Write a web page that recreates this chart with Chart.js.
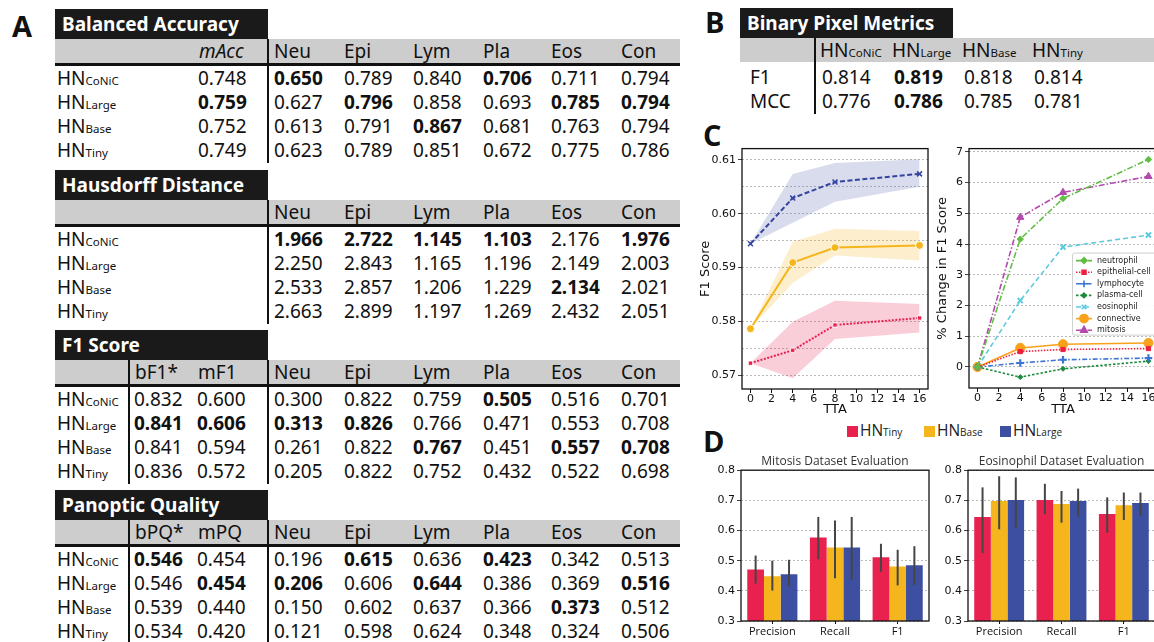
<!DOCTYPE html>
<html><head><meta charset="utf-8">
<script src="https://cdn.jsdelivr.net/npm/chart.js@4.4.1/dist/chart.umd.min.js"></script>
<style>
html,body{margin:0;padding:0;background:#fff;}
body{width:1154px;height:642px;position:relative;overflow:hidden;font-family:"Noto Sans","Open Sans",sans-serif;color:#111;}
.abs{position:absolute;white-space:nowrap;}
.panel{font-family:"Open Sans","Liberation Sans",sans-serif;font-weight:700;font-size:29px;line-height:30px;color:#111;}
.tbl{font-family:"Noto Sans","Open Sans",sans-serif;font-stretch:87.5%;font-size:19px;line-height:24px;height:24px;}
.tbox{background:#1a1a1a;color:#fff;font-weight:700;font-size:19px;line-height:30px;height:30px;padding-left:7px;box-sizing:border-box;font-family:"Noto Sans","Open Sans",sans-serif;font-stretch:87.5%;}
.gray{background:#cdcdcd;}
.rule{background:#111;}
.sub{font-size:11.5px;}
.b{font-weight:700;}
.i{font-style:italic;}
canvas{position:absolute;}
.leg{font-family:"Open Sans","Noto Sans",sans-serif;font-size:15.5px;line-height:18px;color:#222;}
.leg .sub{font-size:10px;}
</style>
</head>
<body>
<div class="abs panel" style="left:12px;top:11px;">A</div>
<div class="abs panel" style="left:705px;top:7px;">B</div>
<div class="abs panel" style="left:703px;top:120px;">C</div>
<div class="abs panel" style="left:703px;top:426px;">D</div>

<script>
// ---------------- DATA ----------------
const modelNames = ['CoNiC', 'Large', 'Base', 'Tiny'];
const classCols = ['Neu', 'Epi', 'Lym', 'Pla', 'Eos', 'Con'];

// Balanced accuracy
const accMean = [0.748, 0.759, 0.752, 0.749];
const accClass = [
  [0.650, 0.789, 0.840, 0.706, 0.711, 0.794],
  [0.627, 0.796, 0.858, 0.693, 0.785, 0.794],
  [0.613, 0.791, 0.867, 0.681, 0.763, 0.794],
  [0.623, 0.789, 0.851, 0.672, 0.775, 0.786]
];
const accBold = [[0,1],[0,4],[1,0],[1,2],[1,5],[1,6],[2,3]];

// Hausdorff distance
const hdClass = [
  [1.966, 2.722, 1.145, 1.103, 2.176, 1.976],
  [2.250, 2.843, 1.165, 1.196, 2.149, 2.003],
  [2.533, 2.857, 1.206, 1.229, 2.134, 2.021],
  [2.663, 2.899, 1.197, 1.269, 2.432, 2.051]
];
const hdBold = [[0,0],[0,1],[0,2],[0,3],[0,5],[2,4]];

// F1 score
const f1Summary = [[0.832, 0.600], [0.841, 0.606], [0.841, 0.594], [0.836, 0.572]];
const f1Class = [
  [0.300, 0.822, 0.759, 0.505, 0.516, 0.701],
  [0.313, 0.826, 0.766, 0.471, 0.553, 0.708],
  [0.261, 0.822, 0.767, 0.451, 0.557, 0.708],
  [0.205, 0.822, 0.752, 0.432, 0.522, 0.698]
];
const f1Bold = [[0,5],[1,0],[1,1],[1,2],[1,3],[2,4],[2,6],[2,7]];

// Panoptic quality
const pqSummary = [[0.546, 0.454], [0.546, 0.454], [0.539, 0.440], [0.534, 0.420]];
const pqClass = [
  [0.196, 0.615, 0.636, 0.423, 0.342, 0.513],
  [0.206, 0.606, 0.644, 0.386, 0.369, 0.516],
  [0.150, 0.602, 0.637, 0.366, 0.373, 0.512],
  [0.121, 0.598, 0.624, 0.348, 0.324, 0.506]
];
const pqBold = [[0,0],[0,3],[0,5],[1,1],[1,2],[1,4],[1,7],[2,6]];

// Binary pixel metrics (columns: CoNiC, Large, Base, Tiny)
const binaryRows = ['F1', 'MCC'];
const binaryF1 = [0.814, 0.819, 0.818, 0.814];
const binaryMCC = [0.776, 0.786, 0.785, 0.781];
const binaryBoldCol = 1;

// C: TTA
const ttaSteps = [0, 4, 8, 16];
const f1TTATiny  = [0.5722, 0.5746, 0.5793, 0.5806];
const f1TTATinyLo = [0.5722, 0.5694, 0.5767, 0.5779];
const f1TTATinyHi = [0.5722, 0.5799, 0.5838, 0.5832];
const f1TTABase  = [0.5786, 0.5909, 0.5937, 0.5941];
const f1TTABaseLo = [0.5786, 0.5871, 0.5922, 0.5913];
const f1TTABaseHi = [0.5786, 0.5948, 0.5972, 0.5968];
const f1TTALarge  = [0.5944, 0.6029, 0.6059, 0.6074];
const f1TTALargeLo = [0.5944, 0.5983, 0.6022, 0.6050];
const f1TTALargeHi = [0.5944, 0.6074, 0.6094, 0.6101];

const cellClasses = ['neutrophil', 'epithelial-cell', 'lymphocyte', 'plasma-cell', 'eosinophil', 'connective', 'mitosis'];
const changeNeutrophil = [0, 4.16, 5.48, 6.75];
const changeEpithelial = [0, 0.50, 0.57, 0.60];
const changeLymphocyte = [0, 0.13, 0.235, 0.29];
const changePlasma     = [0, -0.33, -0.06, 0.19];
const changeEosinophil = [0, 2.16, 3.90, 4.29];
const changeConnective = [0, 0.62, 0.74, 0.78];
const changeMitosis    = [0, 4.87, 5.68, 6.20];

// D: dataset evaluation
const metrics = ['Precision', 'Recall', 'F1'];
const mitTiny = [0.471, 0.577, 0.511], mitTinyLo = [0.424, 0.505, 0.463], mitTinyHi = [0.517, 0.645, 0.556];
const mitBase = [0.448, 0.544, 0.481], mitBaseLo = [0.401, 0.442, 0.418], mitBaseHi = [0.500, 0.633, 0.536];
const mitLarge = [0.455, 0.544, 0.485], mitLargeLo = [0.413, 0.436, 0.420], mitLargeHi = [0.503, 0.645, 0.548];
const eosTiny = [0.645, 0.701, 0.655], eosTinyLo = [0.525, 0.654, 0.593], eosTinyHi = [0.743, 0.755, 0.710];
const eosBase = [0.698, 0.688, 0.684], eosBaseLo = [0.604, 0.626, 0.635], eosBaseHi = [0.780, 0.731, 0.726];
const eosLarge = [0.701, 0.698, 0.691], eosLargeLo = [0.609, 0.646, 0.649], eosLargeHi = [0.776, 0.739, 0.726];
const legendModels = ['Tiny', 'Base', 'Large'];

// ---------------- TABLES ----------------
const colTiny = '#e8214f', colBase = '#f5b51d', colLarge = '#3d4fa0';

function div(cls, left, top, html, extra) {
  const d = document.createElement('div');
  d.className = 'abs ' + cls;
  d.style.left = left + 'px';
  d.style.top = top + 'px';
  if (extra) Object.assign(d.style, extra);
  d.innerHTML = html;
  document.body.appendChild(d);
  return d;
}
function hn(name) { return 'HN<span class="sub">' + name + '</span>'; }

const classX = [274, 344, 413, 483, 551, 621];
function buildTable(T, title, sumHeads, sumX, sumItalic, sumVals, clsVals, bold, extraLine) {
  div('tbox', 55, T, title, {width: '213px'});
  div('gray', 55, T + 30, '', {width: '625px', height: '24px'});
  div('rule', 55, T + 54, '', {width: '625px', height: '2.5px'});
  div('rule', 266.5, T + 30, '', {width: '2px', height: '124px'});
  if (extraLine) div('rule', 128, T + 30, '', {width: '2px', height: '124px'});
  sumHeads.forEach((h, k) => div('tbl' + (sumItalic ? ' i' : ''), sumX[k], T + 30, h));
  classCols.forEach((h, k) => div('tbl', classX[k], T + 30, h));
  const isBold = (r, c) => bold.some(p => p[0] === r && p[1] === c);
  modelNames.forEach((m, r) => {
    const y = T + 57 + 24 * r;
    div('tbl', 57, y, hn(m));
    const nS = sumHeads.length;
    for (let k = 0; k < nS; k++) {
      div('tbl' + (isBold(r, k) ? ' b' : ''), sumX[k] - 1, y, sumVals[r][k].toFixed(3));
    }
    clsVals[r].forEach((v, k) => {
      div('tbl' + (isBold(r, nS + k) ? ' b' : ''), classX[k], y, v.toFixed(3));
    });
  });
}
buildTable(9, 'Balanced Accuracy', ['mAcc'], [199], true, accMean.map(v => [v]), accClass, accBold, false);
buildTable(170, 'Hausdorff Distance', [], [], false, [], hdClass, hdBold, false);
buildTable(330, 'F1 Score', ['bF1*', 'mF1'], [135, 198], false, f1Summary, f1Class, f1Bold, true);
buildTable(490, 'Panoptic Quality', ['bPQ*', 'mPQ'], [135, 198], false, pqSummary, pqClass, pqBold, true);

// Binary table
(function () {
  div('tbox', 740, 8, 'Binary Pixel Metrics', {width: '213px'});
  div('gray', 740, 38, '', {width: '414px', height: '24px'});
  div('rule', 814, 38, '', {width: '2px', height: '76px'});
  const bx = [820, 892, 962, 1032];
  modelNames.forEach((m, k) => div('tbl', bx[k], 38, hn(m)));
  [binaryF1, binaryMCC].forEach((vals, r) => {
    const y = 65 + 24 * r;
    div('tbl', 750, y, binaryRows[r]);
    vals.forEach((v, k) => div('tbl' + (k === binaryBoldCol ? ' b' : ''), bx[k] + 2, y, v.toFixed(3)));
  });
})();

// Shared legend for C/D
(function () {
  const cols = [colTiny, colBase, colLarge];
  const xs = [847, 924, 1000];
  legendModels.forEach((m, k) => {
    div('', xs[k], 426, '', {width: '11px', height: '11px', background: cols[k]});
    div('leg', xs[k] + 13, 421, hn(m));
  });
})();

// ---------------- CHARTS ----------------
Chart.defaults.font.family = "'DejaVu Sans', sans-serif";
Chart.defaults.color = '#111';
Chart.defaults.animation = false;

function mk(left, top, w, h) {
  const c = document.createElement('canvas');
  c.width = w; c.height = h;
  c.style.left = left + 'px'; c.style.top = top + 'px';
  c.style.width = w + 'px'; c.style.height = h + 'px';
  document.body.appendChild(c);
  return c.getContext('2d');
}
const framePlugin = {
  id: 'frame',
  afterDraw(chart) {
    const {ctx, chartArea: a} = chart;
    ctx.save();
    ctx.strokeStyle = '#111';
    ctx.lineWidth = 1.3;
    ctx.strokeRect(a.left, a.top, a.right - a.left, a.bottom - a.top);
    ctx.restore();
  }
};
const pts = ys => ttaSteps.map((x, i) => ({x: x, y: ys[i]}));
const isMaj2 = v => Math.abs(v * 100 - Math.round(v * 100)) < 1e-6;
const GRID = '#a9a9a9';
const TICKSZ = 11;

function band(hi, lo, color) {
  return [
    {data: pts(hi), borderWidth: 0, pointRadius: 0, fill: '+1', backgroundColor: color, borderColor: 'rgba(0,0,0,0)'},
    {data: pts(lo), borderWidth: 0, pointRadius: 0, fill: false, borderColor: 'rgba(0,0,0,0)'}
  ];
}

// C left
new Chart(mk(698, 140, 237, 280), {
  type: 'line',
  data: {datasets: [
    {data: pts(f1TTALarge), borderColor: '#3444a0', backgroundColor: '#3444a0', borderWidth: 2, borderDash: [5, 2.5],
     pointStyle: 'crossRot', pointRadius: 3.5, pointBorderWidth: 1.5, pointBorderColor: '#3444a0', fill: false},
    {data: pts(f1TTABase), borderColor: colBase, backgroundColor: colBase, borderWidth: 2,
     pointStyle: 'circle', pointRadius: 4, pointBackgroundColor: colBase, pointBorderColor: '#fff', pointBorderWidth: 1, fill: false},
    {data: pts(f1TTATiny), borderColor: colTiny, backgroundColor: colTiny, borderWidth: 2, borderDash: [2, 1.5],
     pointStyle: 'rect', pointRadius: 3, pointBackgroundColor: colTiny, pointBorderColor: '#fff', pointBorderWidth: 0.8, fill: false},
    ...band(f1TTALargeHi, f1TTALargeLo, 'rgba(61,79,160,0.2)'),
    ...band(f1TTABaseHi, f1TTABaseLo, 'rgba(245,181,29,0.22)'),
    ...band(f1TTATinyHi, f1TTATinyLo, 'rgba(232,33,79,0.22)')
  ]},
  options: {
    responsive: false, animation: false,
    layout: {padding: {top: 7, right: 7, left: 0, bottom: 0}},
    plugins: {legend: {display: false}, tooltip: {enabled: false}},
    scales: {
      x: {type: 'linear', min: -0.8, max: 16.8,
          ticks: {stepSize: 2, includeBounds: false, font: {size: TICKSZ}, padding: 0, maxRotation: 0, autoSkip: false},
          grid: {drawOnChartArea: false, tickLength: 4, tickColor: '#111'}, border: {display: false},
          title: {display: true, text: 'TTA', font: {size: 13}, padding: {top: 0, bottom: 3}},
          afterFit: s => { s.height = 31; }},
      y: {type: 'linear', min: 0.5674, max: 0.6121,
          ticks: {stepSize: 0.005, includeBounds: false, autoSkip: false, font: {size: TICKSZ}, padding: 2,
                  callback: v => isMaj2(v) ? v.toFixed(2) : ''},
          grid: {color: GRID, lineWidth: 0.8, tickLength: 4,
                 tickColor: c => (c.tick && isMaj2(c.tick.value)) ? '#111' : 'rgba(0,0,0,0)'},
          border: {display: false, dash: [2, 2]},
          title: {display: true, text: 'F1 Score', font: {size: 13}, padding: {top: 0, bottom: 0}},
          afterFit: s => { s.width = 44; }}
    }
  },
  plugins: [framePlugin]
});

// C right
const innerLegend = {
  id: 'innerLegend',
  afterDraw(chart) {
    const {ctx, chartArea: a} = chart;
    const x0 = a.left + 103, y0 = a.top + 104;
    ctx.save();
    ctx.fillStyle = 'rgba(255,255,255,0.9)';
    ctx.strokeStyle = '#d0d0d0';
    ctx.lineWidth = 1;
    ctx.beginPath();
    if (ctx.roundRect) ctx.roundRect(x0 + 0.5, y0 + 0.5, 120, 82, 2); else ctx.rect(x0 + 0.5, y0 + 0.5, 120, 82);
    ctx.fill(); ctx.stroke();
    chart.data.datasets.forEach((ds, i) => {
      const y = y0 + 8 + i * 11.6;
      ctx.setLineDash(ds.borderDash || []);
      ctx.strokeStyle = ds.borderColor;
      ctx.lineWidth = ds.borderWidth;
      ctx.beginPath(); ctx.moveTo(x0 + 4, y); ctx.lineTo(x0 + 20, y); ctx.stroke();
      ctx.setLineDash([]);
      ctx.fillStyle = ds.pointBackgroundColor || ds.borderColor;
      ctx.strokeStyle = ds.pointBorderColor || ds.borderColor;
      if (Chart.helpers && Chart.helpers.drawPoint) {
        Chart.helpers.drawPoint(ctx, {pointStyle: ds.pointStyle, rotation: 0, radius: ds.pointRadius * 0.9, borderWidth: ds.pointBorderWidth}, x0 + 12, y);
      }
      ctx.fillStyle = '#222';
      ctx.font = "8px 'DejaVu Sans', sans-serif";
      ctx.textBaseline = 'middle';
      ctx.fillText(ds.label, x0 + 25, y);
    });
    ctx.restore();
  }
};
const changeSeries = [changeNeutrophil, changeEpithelial, changeLymphocyte, changePlasma, changeEosinophil, changeConnective, changeMitosis];
const changeStyle = [
  {c: '#62bd45', dash: [6, 2, 1.5, 2], ps: 'rectRot', r: 3.2, bw: 1},
  {c: '#ee2040', dash: [1.5, 1.5], ps: 'rect', r: 3, bw: 1},
  {c: '#3b74d4', dash: [5, 2, 1.5, 2], ps: 'cross', r: 3.8, bw: 2.2},
  {c: '#1c8a3c', dash: [2.5, 1.8], ps: 'rectRot', r: 2.5, bw: 1},
  {c: '#5ccbe0', dash: [5, 3], ps: 'crossRot', r: 3.6, bw: 2},
  {c: '#f8a21c', dash: [], ps: 'circle', r: 4.6, bw: 1},
  {c: '#b34aae', dash: [6, 2, 1.5, 2], ps: 'triangle', r: 4.2, bw: 1}
];
new Chart(mk(925, 140, 240, 280), {
  type: 'line',
  data: {datasets: changeSeries.map((s, i) => ({
    label: cellClasses[i], data: pts(s), borderColor: changeStyle[i].c, backgroundColor: changeStyle[i].c,
    borderWidth: 1.6, borderDash: changeStyle[i].dash, pointStyle: changeStyle[i].ps, pointRadius: changeStyle[i].r,
    pointBackgroundColor: changeStyle[i].c, pointBorderColor: changeStyle[i].c, pointBorderWidth: changeStyle[i].bw, fill: false
  }))},
  options: {
    responsive: false, animation: false,
    layout: {padding: {top: 6, right: 8, left: 0, bottom: 0}},
    plugins: {legend: {display: false}, tooltip: {enabled: false}},
    scales: {
      x: {type: 'linear', min: -0.8, max: 16.8,
          ticks: {stepSize: 2, includeBounds: false, font: {size: TICKSZ}, padding: 0, maxRotation: 0, autoSkip: false},
          grid: {drawOnChartArea: false, tickLength: 4, tickColor: '#111'}, border: {display: false},
          title: {display: true, text: 'TTA', font: {size: 13}, padding: {top: 0, bottom: 3}},
          afterFit: s => { s.height = 32; }},
      y: {type: 'linear', min: -0.684, max: 7.104,
          ticks: {stepSize: 1, includeBounds: false, autoSkip: false, font: {size: TICKSZ}, padding: 2},
          grid: {color: GRID, lineWidth: 0.8, tickLength: 4, tickColor: '#111'},
          border: {display: false, dash: [2, 2]},
          title: {display: true, text: '% Change in F1 Score', font: {size: 13}, padding: {top: 10, bottom: 0}},
          afterFit: s => { s.width = 44; }}
    }
  },
  plugins: [framePlugin, innerLegend]
});

// D bar charts
const errorBars = {
  id: 'errorBars',
  afterDatasetsDraw(chart) {
    const {ctx} = chart;
    const ys = chart.scales.y;
    ctx.save();
    ctx.strokeStyle = '#454545';
    ctx.lineWidth = 2;
    chart.data.datasets.forEach((ds, i) => {
      const meta = chart.getDatasetMeta(i);
      meta.data.forEach((bar, j) => {
        ctx.beginPath();
        ctx.moveTo(bar.x, ys.getPixelForValue(ds.errLo[j]));
        ctx.lineTo(bar.x, ys.getPixelForValue(ds.errHi[j]));
        ctx.stroke();
      });
    });
    ctx.restore();
  }
};
function barChart(left, w, yW, padRight, title, sets) {
  const cols = [colTiny, colBase, colLarge];
  return new Chart(mk(left, 446, w, 196), {
    type: 'bar',
    data: {labels: metrics, datasets: sets.map((s, k) => ({
      label: 'HN' + legendModels[k], data: s[0], errLo: s[1], errHi: s[2],
      backgroundColor: cols[k], borderWidth: 0, categoryPercentage: 0.8, barPercentage: 1.0
    }))},
    options: {
      responsive: false, animation: false,
      layout: {padding: {top: 0, right: padRight, left: 0, bottom: 0}},
      plugins: {legend: {display: false}, tooltip: {enabled: false},
        title: {display: true, fullSize: false, text: title, color: '#333', font: {family: "'Open Sans', sans-serif", size: 12, weight: 'normal'},
                padding: {top: 8.6, bottom: 1.2}}},
      scales: {
        x: {ticks: {font: {family: "'Open Sans', sans-serif", size: 11}, padding: 1, maxRotation: 0},
            grid: {drawOnChartArea: false, offset: false, tickLength: 3, tickColor: '#111'}, border: {display: false},
            afterFit: s => { s.height = 21; }},
        y: {min: 0.3, max: 0.8,
            ticks: {stepSize: 0.1, font: {size: TICKSZ}, padding: 2, callback: v => v.toFixed(1)},
            grid: {color: GRID, lineWidth: 0.8, tickLength: 4, tickColor: '#111'},
            border: {display: false, dash: [2, 2]},
            afterFit: s => { s.width = yW; }}
      }
    },
    plugins: [errorBars, framePlugin]
  });
}
barChart(700, 236, 41, 7, 'Mitosis Dataset Evaluation', [
  [mitTiny, mitTinyLo, mitTinyHi], [mitBase, mitBaseLo, mitBaseHi], [mitLarge, mitLargeLo, mitLargeHi]]);
barChart(930, 230, 38, 5, 'Eosinophil Dataset Evaluation', [
  [eosTiny, eosTinyLo, eosTinyHi], [eosBase, eosBaseLo, eosBaseHi], [eosLarge, eosLargeLo, eosLargeHi]]);
</script>
</body></html>
